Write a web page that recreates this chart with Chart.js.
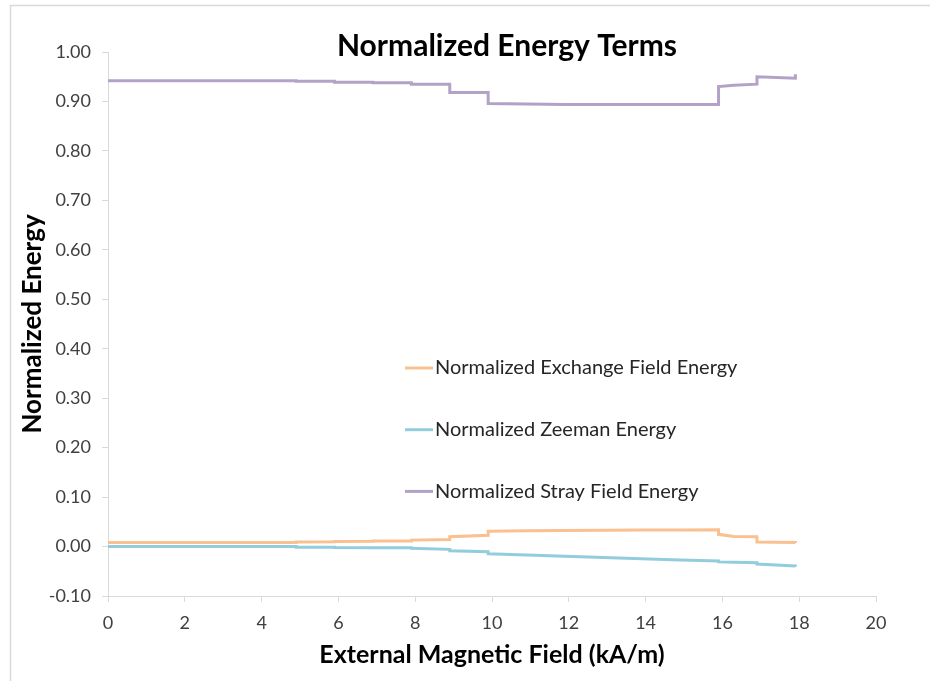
<!DOCTYPE html>
<html>
<head>
<meta charset="utf-8">
<script src="https://cdn.jsdelivr.net/npm/chart.js@4/dist/chart.umd.min.js"></script>
<style>
  html, body { margin: 0; padding: 0; background: #fff; }
  #wrap { width: 930px; height: 681px; }
</style>
</head>
<body>
<div id="wrap"><canvas id="energyChart" width="930" height="681"></canvas></div>
<script>
// External field (kA/m) - repeated values mark the vertical steps
const field = [0, 4.9, 4.9, 5.9, 5.9, 6.9, 6.9, 7.9, 7.9, 8.9, 8.9, 9.9, 9.9, 10.9, 11.9, 12.9, 13.9, 14.9, 15.9, 15.9, 16.3, 16.9, 16.9, 17.9, 17.9];

const exchangeEnergy = [0.008, 0.008, 0.0092, 0.0097, 0.0100, 0.0105, 0.0110, 0.0110, 0.0130, 0.0140, 0.0198, 0.0226, 0.0310, 0.0320, 0.0325, 0.0330, 0.0334, 0.0336, 0.0340, 0.0247, 0.0205, 0.0198, 0.0091, 0.0080, 0.0070];
const zeemanEnergy = [0.0, 0.0, -0.0012, -0.0016, -0.0020, -0.0022, -0.0024, -0.0026, -0.0036, -0.0057, -0.0085, -0.0105, -0.0146, -0.0170, -0.0198, -0.0222, -0.0246, -0.0270, -0.0293, -0.0310, -0.0317, -0.0328, -0.0354, -0.0394, -0.0410];
const strayEnergy = [0.942, 0.942, 0.941, 0.941, 0.939, 0.939, 0.938, 0.938, 0.935, 0.935, 0.918, 0.918, 0.896, 0.895, 0.894, 0.894, 0.894, 0.894, 0.894, 0.930, 0.933, 0.935, 0.950, 0.947, 0.955];

const seriesNames = ['Normalized Exchange Field Energy', 'Normalized Zeeman Energy', 'Normalized Stray Field Energy'];
const seriesColors = ['#FAC090', '#93CDDD', '#B3A2C7'];

const yTicks = [-0.1, 0, 0.1, 0.2, 0.3, 0.4, 0.5, 0.6, 0.7, 0.8, 0.9, 1.0];
const xTicks = [0, 2, 4, 6, 8, 10, 12, 14, 16, 18, 20];

const FONT = 'Lato, "Open Sans", sans-serif';

function toPoints(values) {
    return values.map(function(v, i) { return { x: field[i], y: v }; });
}

// frame, title and legend drawn on the canvas
const decorations = {
    id: 'decorations',
    beforeDraw: function(chart) {
        const ctx = chart.ctx;
        ctx.save();
        ctx.strokeStyle = '#d9d9d9';
        ctx.lineWidth = 1.5;
        ctx.beginPath();
        ctx.moveTo(10.5, 681);
        ctx.lineTo(10.5, 5.5);
        ctx.lineTo(930, 5.5);
        ctx.stroke();
        ctx.restore();
    },
    afterDraw: function(chart) {
        const ctx = chart.ctx;
        ctx.save();
        ctx.fillStyle = '#000';
        ctx.font = 'bold 30px ' + FONT;
        ctx.textAlign = 'center';
        ctx.textBaseline = 'middle';
        ctx.fillText('Normalized Energy Terms', 507, 46);

        ctx.font = '20px ' + FONT;
        ctx.textAlign = 'left';
        ctx.fillStyle = '#262626';
        chart.data.datasets.forEach(function(ds, i) {
            const y = 368 + i * 61.7;
            ctx.strokeStyle = ds.borderColor;
            ctx.lineWidth = 3;
            ctx.beginPath();
            ctx.moveTo(405, y);
            ctx.lineTo(433, y);
            ctx.stroke();
            ctx.fillText(ds.label, 435, y);
        });
        ctx.restore();
    }
};

document.addEventListener('DOMContentLoaded', function() {
    const ctx = document.getElementById('energyChart').getContext('2d');
    new Chart(ctx, {
        type: 'line',
        data: {
            datasets: [
                { label: seriesNames[0], data: toPoints(exchangeEnergy), borderColor: seriesColors[0], backgroundColor: seriesColors[0] },
                { label: seriesNames[1], data: toPoints(zeemanEnergy), borderColor: seriesColors[1], backgroundColor: seriesColors[1] },
                { label: seriesNames[2], data: toPoints(strayEnergy), borderColor: seriesColors[2], backgroundColor: seriesColors[2] }
            ].map(function(ds) {
                ds.borderWidth = 3;
                ds.pointRadius = 0;
                ds.tension = 0;
                ds.fill = false;
                return ds;
            })
        },
        options: {
            responsive: false,
            animation: false,
            layout: {
                padding: { left: 0, right: 54, top: 52, bottom: 0 }
            },
            plugins: {
                legend: { display: false },
                title: { display: false },
                tooltip: { enabled: false }
            },
            scales: {
                x: {
                    type: 'linear',
                    min: 0,
                    max: 20,
                    afterFit: function(s) { s.height = 85; },
                    afterBuildTicks: function(s) { s.ticks = xTicks.map(function(v) { return { value: v }; }); },
                    grid: { drawOnChartArea: false, drawTicks: true, tickLength: 6, color: '#d9d9d9' },
                    border: { color: '#d9d9d9', width: 1 },
                    ticks: {
                        padding: 10,
                        color: '#404040',
                        font: { family: FONT, size: 18 }
                    },
                    title: {
                        display: true,
                        text: 'External Magnetic Field (kA/m)',
                        color: '#000',
                        font: { family: FONT, size: 25, weight: 'bold' },
                        padding: { top: 0, bottom: 11 }
                    }
                },
                y: {
                    min: -0.1,
                    max: 1.0,
                    afterFit: function(s) { s.width = 108; },
                    afterBuildTicks: function(s) { s.ticks = yTicks.map(function(v) { return { value: v }; }); },
                    grid: { drawOnChartArea: false, drawTicks: true, tickLength: 6, color: '#d9d9d9' },
                    border: { color: '#d9d9d9', width: 1 },
                    ticks: {
                        padding: 11,
                        color: '#404040',
                        font: { family: FONT, size: 18 },
                        callback: function(v) { return Number(v).toFixed(2); }
                    },
                    title: {
                        display: true,
                        text: 'Normalized Energy',
                        color: '#000',
                        font: { family: FONT, size: 26, weight: 'bold' },
                        padding: { top: 17, bottom: 0 }
                    }
                }
            }
        },
        plugins: [decorations]
    });
});
</script>
</body>
</html>
